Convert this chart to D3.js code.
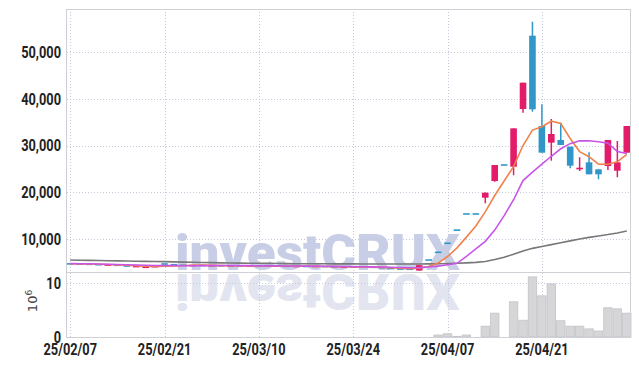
<!DOCTYPE html>
<html>
<head>
<meta charset="utf-8">
<script src="https://cdn.jsdelivr.net/npm/d3@7"></script>
<style>
  body { margin: 0; background: #fff; }
</style>
</head>
<body>
<div id="chart"></div>
<script>
// trading days, yy/mm/dd
let dates = [
  '25/02/07', '25/02/10', '25/02/11', '25/02/12', '25/02/13', '25/02/14', '25/02/17', '25/02/18', '25/02/19', '25/02/20',
  '25/02/21', '25/02/24', '25/02/25', '25/02/26', '25/02/27', '25/02/28', '25/03/04', '25/03/05', '25/03/06', '25/03/07',
  '25/03/10', '25/03/11', '25/03/12', '25/03/13', '25/03/14', '25/03/17', '25/03/18', '25/03/19', '25/03/20', '25/03/21',
  '25/03/24', '25/03/25', '25/03/26', '25/03/27', '25/03/28', '25/03/31', '25/04/01', '25/04/02', '25/04/03', '25/04/04',
  '25/04/07', '25/04/08', '25/04/09', '25/04/10', '25/04/11', '25/04/14', '25/04/15', '25/04/16', '25/04/17', '25/04/18',
  '25/04/21', '25/04/22', '25/04/23', '25/04/24', '25/04/25', '25/04/28', '25/04/29', '25/04/30', '25/05/02', '25/05/07'
]

let open = [
  4700, 4650, 4600, 4550, 4400, 4450, 4300, 4050, 3900, 4000,
  4700, 4550, 4400, 4300, 4350, 4250, 4300, 4200, 4250, 4150,
  4200, 4150, 4250, 4200, 4100, 4150, 4100, 4150, 4050, 3950,
  4000, 3950, 4000, 3900, 3750, 3600, 3550, 3250, 5500, 7150,
  9080, 11900, 15350, 15350, 18830, 22400, 25830, 25470, 37810, 53490,
  34170, 30610, 31180, 29750, 25000, 26400, 24900, 25620, 24610, 28470
]
let close = [
  4650, 4600, 4550, 4450, 4450, 4300, 4150, 4150, 4000, 4150,
  4600, 4450, 4350, 4350, 4300, 4300, 4250, 4250, 4200, 4200,
  4150, 4250, 4200, 4100, 4150, 4100, 4150, 4050, 4000, 4000,
  3950, 4000, 3900, 3800, 3600, 3550, 3500, 4400, 5500, 7150,
  9080, 11900, 15350, 15350, 19900, 25830, 25830, 33670, 43440, 37740,
  28470, 32460, 30110, 25680, 25150, 23840, 23840, 31180, 26400, 34170
]
let high = [
  4700, 4650, 4600, 4550, 4450, 4450, 4300, 4150, 4000, 4150,
  4700, 4550, 4400, 4350, 4350, 4300, 4300, 4250, 4250, 4200,
  4200, 4250, 4250, 4200, 4150, 4150, 4150, 4150, 4050, 4000,
  4000, 4000, 4000, 3900, 3750, 3600, 3550, 4400, 5500, 7150,
  9080, 11900, 15350, 15350, 19950, 25830, 25830, 33670, 43440, 56480,
  38810, 35670, 34880, 29750, 27480, 28540, 24900, 31180, 30960, 34170
]
let low = [
  4650, 4600, 4550, 4450, 4400, 4300, 4150, 4050, 3900, 4000,
  4600, 4450, 4350, 4300, 4300, 4250, 4250, 4200, 4200, 4150,
  4150, 4150, 4200, 4100, 4100, 4100, 4100, 4050, 4000, 3950,
  3950, 3950, 3900, 3800, 3600, 3550, 3500, 3200, 5500, 7150,
  9080, 11900, 15350, 15350, 17640, 22250, 25830, 23640, 37010, 37230,
  28470, 26750, 30110, 25120, 24550, 23840, 22770, 24760, 23200, 28470
]

// volume, millions of shares
let volume = [
  0, 0, 0, 0, 0, 0, 0, 0, 0, 0,
  0, 0, 0, 0, 0, 0, 0, 0, 0, 0,
  0, 0, 0, 0, 0, 0, 0, 0, 0, 0,
  0, 0, 0, 0, 0, 0, 0, 0, 0, 0.37,
  0.6, 0.13, 0.37, 0, 2.0, 4.4, 0, 6.5, 3.1, 11.1,
  7.6, 9.8, 3.0, 2.0, 2.0, 1.5, 1.1, 5.4, 5.2, 4.4
]

let ma5 = [
  4700, 4680, 4640, 4590, 4540, 4470, 4380, 4300, 4200, 4150,
  4200, 4260, 4320, 4390, 4420, 4350, 4310, 4290, 4260, 4240,
  4210, 4210, 4200, 4180, 4170, 4160, 4140, 4110, 4090, 4060,
  4020, 3990, 3970, 3930, 3850, 3770, 3670, 3770, 4120, 4850,
  6250, 8100, 10400, 12800, 15800, 19300, 22400, 25500, 30000, 33300,
  34000, 35200, 34700, 31500, 28700, 27600, 26000, 26000, 26500, 28100
]
let ma10 = [
  4750, 4720, 4690, 4650, 4600, 4550, 4500, 4440, 4380, 4330,
  4320, 4300, 4290, 4290, 4300, 4310, 4320, 4320, 4300, 4300,
  4280, 4260, 4250, 4230, 4210, 4190, 4180, 4160, 4140, 4120,
  4090, 4060, 4040, 4010, 3960, 3910, 3860, 3880, 4000, 4200,
  4500, 4800, 6300, 7900, 9500, 11900, 15000, 18400, 22500, 24300,
  26000, 27700, 29300, 30400, 31000, 31000, 30800, 30500, 28700, 28300
]
let ma60 = [
  5500, 5460, 5430, 5390, 5360, 5320, 5290, 5250, 5220, 5190,
  5150, 5110, 5060, 5020, 4980, 4940, 4900, 4860, 4840, 4820,
  4800, 4780, 4760, 4740, 4720, 4710, 4700, 4690, 4680, 4670,
  4670, 4660, 4660, 4650, 4650, 4650, 4650, 4660, 4680, 4710,
  4750, 4810, 4890, 5000, 5200, 5600, 6100, 6750, 7450, 8000,
  8400, 8800, 9200, 9600, 10000, 10350, 10650, 10950, 11300, 11700
]

let priceTicks = [10000, 20000, 30000, 40000, 50000]
let volTicks = [0, 10]
let tickDates = ['25/02/07', '25/02/21', '25/03/10', '25/03/24', '25/04/07', '25/04/21']

let width = 639
let height = 366
let plotLeft = 67
let plotRight = 630
let plotTop = 9
let sep = 272
let plotBottom = 337

let upColor = '#e31c69'
let downColor = '#3197c9'

let svg = d3
  .select('#chart')
  .append('svg')
  .attr('width', width)
  .attr('height', height)

let x = d3.scaleBand().domain(dates).range([65.5, 631.5])
let bw = x.bandwidth()
let cx = d => x(d) + bw / 2

let y = d3.scaleLinear().domain([2940, 59200]).range([sep, plotTop])
let yv = d3.scaleLinear().domain([0, 12]).range([plotBottom, sep])

let candles = dates.map((d, i) => ({
  date: d, o: open[i], h: high[i], l: low[i], c: close[i], v: volume[i]
}))

// watermark with reflection
let mark = svg.append('g').attr('font-family', 'Roboto, sans-serif').attr('font-weight', 900)
mark
  .append('text')
  .attr('x', 175)
  .attr('y', 270)
  .attr('font-size', 50)
  .attr('textLength', 285)
  .attr('lengthAdjust', 'spacingAndGlyphs')
  .attr('fill', '#c7cee6')
  .text('investCRUX')
mark
  .append('text')
  .attr('x', 175)
  .attr('y', 270)
  .attr('font-size', 50)
  .attr('textLength', 285)
  .attr('lengthAdjust', 'spacingAndGlyphs')
  .attr('fill', '#e2e5f0')
  .attr('transform', 'translate(0,' + 2 * sep + ') scale(1,-1)')
  .text('investCRUX')

// grid
let grid = svg.append('g')
  .attr('stroke', '#c4c9de')
  .attr('stroke-dasharray', '1,2')
  .attr('stroke-width', 1)

grid.selectAll('.hgrid')
  .data(priceTicks)
  .enter()
  .append('line')
  .attr('x1', plotLeft)
  .attr('x2', plotRight)
  .attr('y1', d => Math.round(y(d)) + 0.5)
  .attr('y2', d => Math.round(y(d)) + 0.5)

grid.selectAll('.vgrid')
  .data(volTicks.filter(d => d > 0))
  .enter()
  .append('line')
  .attr('x1', plotLeft)
  .attr('x2', plotRight)
  .attr('y1', d => Math.round(yv(d)) + 0.5)
  .attr('y2', d => Math.round(yv(d)) + 0.5)

grid.selectAll('.xgrid')
  .data(tickDates)
  .enter()
  .append('line')
  .attr('x1', d => Math.round(cx(d)) + 0.5)
  .attr('x2', d => Math.round(cx(d)) + 0.5)
  .attr('y1', plotTop)
  .attr('y2', plotBottom)

// volume bars
svg.append('g')
  .selectAll('rect')
  .data(candles.filter(d => d.v > 0))
  .enter()
  .append('rect')
  .attr('x', d => x(d.date) + 0.5)
  .attr('width', bw - 1)
  .attr('y', d => yv(d.v))
  .attr('height', d => plotBottom - yv(d.v))
  .attr('fill', '#d6d6d9')
  .attr('stroke', '#c4c4c9')
  .attr('stroke-width', 0.8)

// candles
let cw = 6.6
let cg = svg.append('g')
cg.selectAll('.wick')
  .data(candles.filter(d => d.h > d.l))
  .enter()
  .append('line')
  .attr('x1', d => cx(d.date))
  .attr('x2', d => cx(d.date))
  .attr('y1', d => y(d.h))
  .attr('y2', d => y(d.l))
  .attr('stroke', d => (d.c > d.o ? upColor : downColor))
  .attr('stroke-width', 1.5)

cg.selectAll('.body')
  .data(candles)
  .enter()
  .append('rect')
  .attr('x', d => cx(d.date) - cw / 2)
  .attr('width', cw)
  .attr('y', d => {
    let t = y(Math.max(d.o, d.c))
    let b = y(Math.min(d.o, d.c))
    return b - t < 1.6 ? (t + b) / 2 - 0.8 : t
  })
  .attr('height', d => Math.max(1.6, y(Math.min(d.o, d.c)) - y(Math.max(d.o, d.c))))
  .attr('fill', d => (d.c > d.o ? upColor : downColor))

// moving averages
let line = d3.line().x((d, i) => cx(dates[i])).y(d => y(d))
svg.append('path').datum(ma60).attr('d', line)
  .attr('fill', 'none').attr('stroke', '#787878').attr('stroke-width', 1.6)
svg.append('path').datum(ma5).attr('d', line)
  .attr('fill', 'none').attr('stroke', '#f0824c').attr('stroke-width', 1.6)
svg.append('path').datum(ma10).attr('d', line)
  .attr('fill', 'none').attr('stroke', '#c855e8').attr('stroke-width', 1.6)

// frame
let frame = svg.append('g').attr('stroke', '#cfd0d6').attr('stroke-width', 1).attr('fill', 'none')
frame.append('rect').attr('x', plotLeft - 0.5).attr('y', plotTop + 0.5).attr('width', plotRight - plotLeft + 1).attr('height', plotBottom - plotTop)
frame.append('line').attr('x1', plotLeft).attr('x2', plotRight).attr('y1', sep + 0.5).attr('y2', sep + 0.5)

// condensed bold labels (squeezed Roboto)
function label(g, px, py, anchor, txt) {
  g.append('text')
    .attr('transform', 'translate(' + px + ',' + py + ') scale(0.8,1)')
    .attr('dy', '0.36em')
    .attr('text-anchor', anchor)
    .attr('font-family', 'Roboto, sans-serif')
    .attr('font-size', 16)
    .attr('font-weight', 'bold')
    .attr('fill', '#222')
    .text(txt)
}

let yLabels = svg.append('g')
priceTicks.forEach(d => label(yLabels, 61, y(d), 'end', d3.format(',')(d)))
volTicks.forEach(d => label(yLabels, 61, yv(d), 'end', d))

let xLabels = svg.append('g')
tickDates.forEach(d => label(xLabels, cx(d), 349, 'middle', d))

let unit = svg.append('text')
  .attr('transform', 'translate(37,301) rotate(-90)')
  .attr('text-anchor', 'middle')
  .attr('font-family', "'DejaVu Sans', sans-serif")
  .attr('font-size', 13)
  .attr('fill', '#444')
unit.append('tspan').text('10')
unit.append('tspan').attr('dy', -5).attr('font-size', 9).text('6')
</script>
</body>
</html>
